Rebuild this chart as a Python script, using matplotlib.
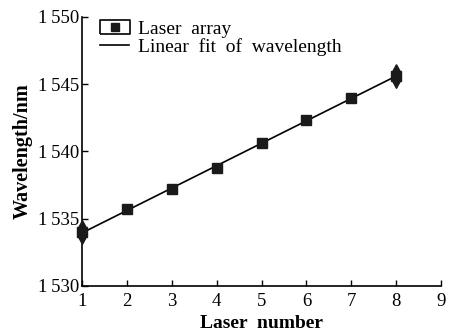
import numpy as np
import matplotlib.pyplot as plt
from matplotlib.legend_handler import HandlerTuple
from matplotlib.lines import Line2D

plt.rcParams['font.family'] = ['Liberation Serif', 'DejaVu Serif']

# data
laser_num = [1, 2, 3, 4, 5, 6, 7, 8]
wavelength = [1534.0, 1535.7, 1537.2, 1538.8, 1540.6, 1542.3, 1544.0, 1545.6]
y_ticks = [1530, 1535, 1540, 1545, 1550]
y_tick_labels = ['1\u2009530', '1\u2009535', '1\u2009540', '1\u2009545', '1\u2009550']
x_ticks = [1, 2, 3, 4, 5, 6, 7, 8, 9]

# linear fit
slope, intercept = np.polyfit(laser_num, wavelength, 1)
x_fit = np.array([laser_num[0], laser_num[-1]])
y_fit = slope * x_fit + intercept

fig = plt.figure(figsize=(4.49, 3.31), dpi=100)
ax = fig.add_axes([0.183, 0.136, 0.799, 0.813])

ax.plot(x_fit, y_fit, color='black', lw=1.2, clip_on=False)
ax.plot(laser_num, wavelength, 's', color='#1a1a1a', ms=7, clip_on=False, zorder=3)
# end points get a tall thin diamond on top
tall_diamond = [(0, 1), (0.38, 0.3), (0.38, -0.3), (0, -1), (-0.38, -0.3), (-0.38, 0.3), (0, 1)]
ends_x = [laser_num[0], laser_num[-1]]
ends_y = [wavelength[0], wavelength[-1]]
ax.plot(ends_x, ends_y, ls='none', marker=tall_diamond, color='#1a1a1a', ms=17,
        clip_on=False, zorder=3)

ax.set_xlim(1, 9)
ax.set_ylim(1530, 1550)
ax.set_xticks(x_ticks)
ax.set_yticks(y_ticks)
ax.set_yticklabels(y_tick_labels)
ax.tick_params(direction='in', length=4, width=1, labelsize=13.5)
ax.tick_params(axis='x', pad=5)
ax.tick_params(axis='y', pad=2)
ax.spines['top'].set_visible(False)
ax.spines['right'].set_visible(False)
ax.spines['left'].set_linewidth(1.2)
ax.spines['bottom'].set_linewidth(1.2)

ax.set_xlabel('Laser  number', fontsize=14, fontweight='bold', labelpad=4)
ax.set_ylabel('Wavelength/nm', fontsize=14.5, fontweight='bold', labelpad=4)

box = Line2D([], [], marker=[(-1, -0.48), (1, -0.48), (1, 0.48), (-1, 0.48), (-1, -0.48)],
             ls='none', ms=21, mfc='white', mec='black', mew=1.2)
sq = Line2D([], [], marker='s', ls='none', ms=6, color='#1a1a1a')
fit_line = Line2D([], [], color='black', lw=1.2)
ax.legend([(box, sq), fit_line], ['Laser  array', 'Linear  fit  of  wavelength'],
          handler_map={tuple: HandlerTuple(ndivide=1)},
          loc='upper left', bbox_to_anchor=(0.018, 1.03), frameon=False,
          fontsize=14, handlelength=1.5, handletextpad=0.45, labelspacing=0.0,
          borderaxespad=0.2)

fig.savefig('out.png', dpi=100)
